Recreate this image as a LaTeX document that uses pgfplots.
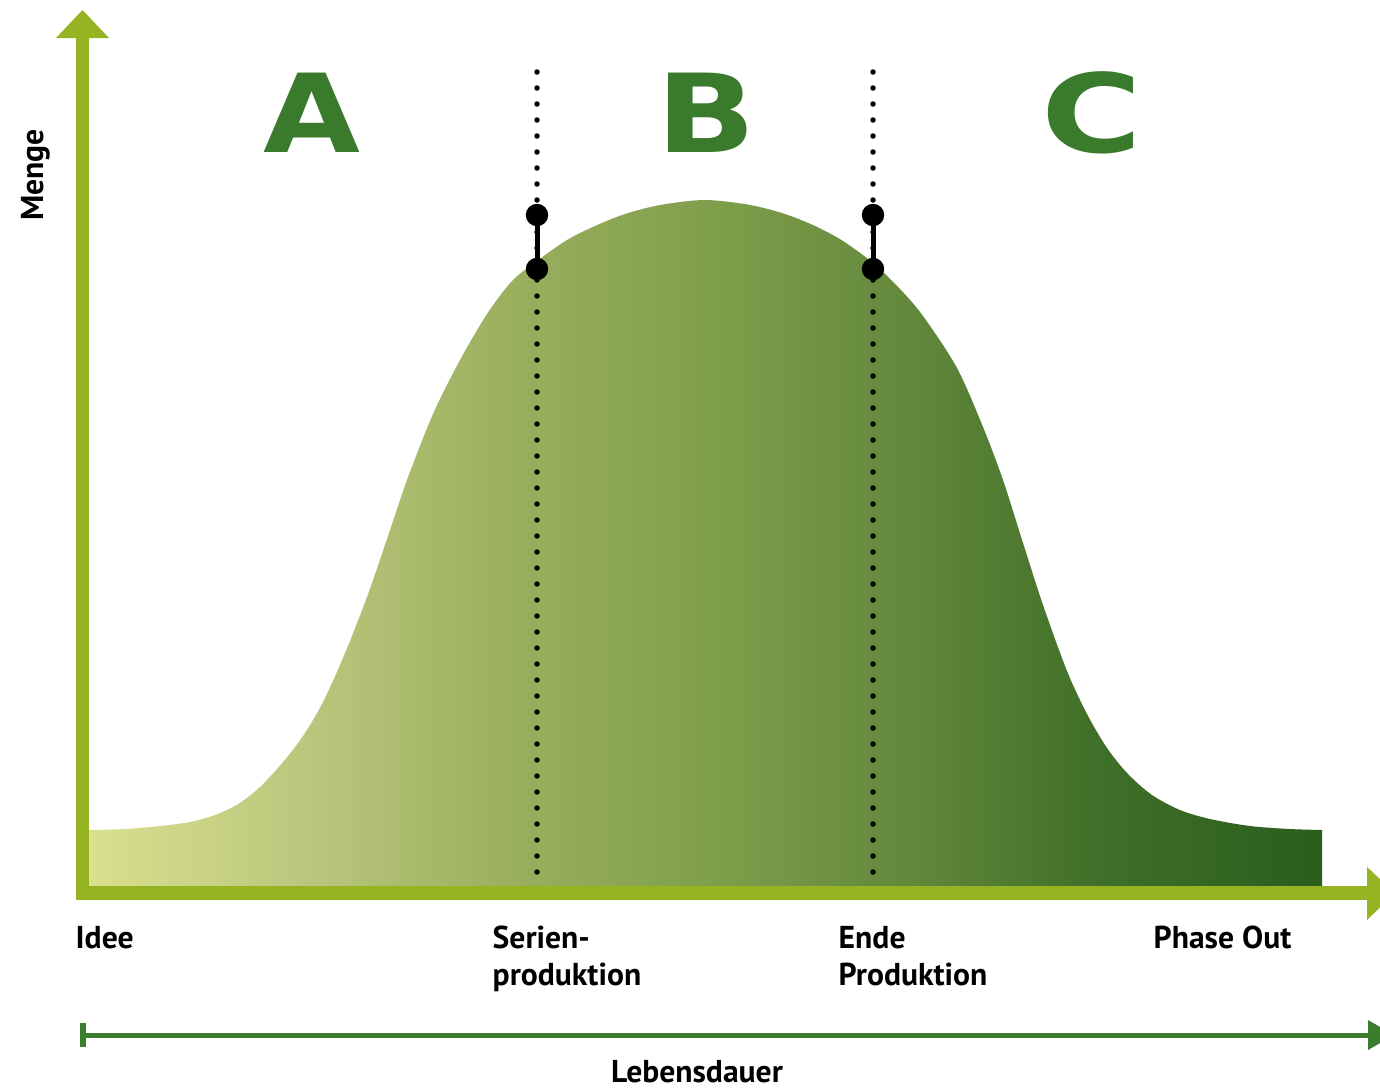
\documentclass[border=0pt]{standalone}
\usepackage{fontspec}
\setmainfont{PT Sans}
\newfontfamily\abcfont{DejaVu Sans}
\usepackage{pgfplots}
\pgfplotsset{compat=1.18}
\definecolor{axgreen}{HTML}{96B421}
\definecolor{letgreen}{HTML}{3A7A2C}
\definecolor{lgreen}{HTML}{3A7D2F}
\definecolor{g0}{HTML}{D9E08E}
\definecolor{g1}{HTML}{BCC77E}
\definecolor{g2}{HTML}{9CB060}
\definecolor{g3}{HTML}{80A04C}
\definecolor{g4}{HTML}{64893C}
\definecolor{g5}{HTML}{3F6F28}
\definecolor{g6}{HTML}{2A5E1E}
\pgfdeclarehorizontalshading{lifecycle}{100bp}{color(0bp)=(g0); color(25bp)=(g0); color(33.56bp)=(g1); color(41.67bp)=(g2); color(49.78bp)=(g3); color(57.89bp)=(g4); color(66bp)=(g5); color(75bp)=(g6); color(100bp)=(g6)}
\begin{document}
\begin{tikzpicture}
\begin{axis}[width=13.8cm,height=10.89cm,scale only axis,
  xmin=0,xmax=1380,ymin=-203,ymax=886,hide axis,clip=false]
% curve
\addplot[draw=none, shading=lifecycle, smooth] coordinates {
(89,56)(125,57)(160,60)(190,64)(215,71)(238,82)(260,99)(283,124)(303,150)(322,182)(343,228)(367,289)(387,347)(407,406)(433,472)(460,526)(487,572)(512,605)(537,625)(567,646)(595,660)(625,672)(660,681)(705,686)(750,681)(785,672)(815,660)(843,645)(873,623)(900,597)(923,570)(957,518)(983,459)(1003,406)(1023,343)(1043,281)(1067,215)(1087,172)(1107,138)(1128,112)(1152,91)(1180,76)(1210,67)(1250,60)(1290,57)(1322,56)} \closedcycle;
% dotted lines
\addplot[black, line width=0.55mm, line cap=round, dash pattern=on 0pt off 1.6mm] coordinates {(537,814)(537,0)};
\addplot[black, line width=0.55mm, line cap=round, dash pattern=on 0pt off 1.6mm] coordinates {(873,814)(873,0)};
\addplot[black, line width=0.5mm] coordinates {(537,671)(537,617)};
\addplot[black, line width=0.5mm] coordinates {(873,671)(873,617)};
\addplot[only marks, mark=*, mark size=1.05mm, black] coordinates {(537,671)(537,617)(873,671)(873,617)};
% axes
\fill[axgreen] (axis cs:76,-14) rectangle (axis cs:89,849);
\fill[axgreen] (axis cs:56,848) -- (axis cs:109,848) -- (axis cs:82.5,876) -- cycle;
\fill[axgreen] (axis cs:76,-14) rectangle (axis cs:1368,0);
\fill[axgreen] (axis cs:1367,19) -- (axis cs:1367,-34) -- (axis cs:1395,-7) -- cycle;
% Lebensdauer arrow
\fill[lgreen] (axis cs:82,-151.5) rectangle (axis cs:1369,-146.5);
\fill[lgreen] (axis cs:80,-161) rectangle (axis cs:86,-137);
\fill[lgreen] (axis cs:1368,-134) -- (axis cs:1368,-164) -- (axis cs:1394,-149) -- cycle;
% big letters
\node[anchor=base, font=\abcfont\bfseries\fontsize{31pt}{31pt}\selectfont, text=letgreen, xscale=1.15, inner sep=0pt] at (axis cs:312,734) {A};
\node[anchor=base, font=\abcfont\bfseries\fontsize{31pt}{31pt}\selectfont, text=letgreen, xscale=1.2, inner sep=0pt] at (axis cs:706,734) {B};
\node[anchor=base, font=\abcfont\bfseries\fontsize{31pt}{31pt}\selectfont, text=letgreen, xscale=1.26, inner sep=0pt] at (axis cs:1092,734) {C};
% labels
\tikzset{lab/.style={anchor=base west, inner sep=0pt, font=\bfseries\fontsize{9pt}{10pt}\selectfont}}
\node[lab] at (axis cs:75,-62) {Idee};
\node[lab] at (axis cs:492,-62) {Serien-};
\node[lab] at (axis cs:492,-99) {produktion};
\node[lab] at (axis cs:838,-62) {Ende};
\node[lab] at (axis cs:838,-99) {Produktion};
\node[lab] at (axis cs:1153,-62) {Phase Out};
\node[anchor=base, inner sep=0pt, font=\bfseries\fontsize{9pt}{10pt}\selectfont] at (axis cs:697,-196) {Lebensdauer};
\node[anchor=base, rotate=90, inner sep=0pt, font=\bfseries\fontsize{9pt}{10pt}\selectfont] at (axis cs:43,711) {Menge};
\end{axis}
\pgfresetboundingbox
\path[use as bounding box] (current axis.south west) rectangle (current axis.north east);
\end{tikzpicture}
\end{document}
